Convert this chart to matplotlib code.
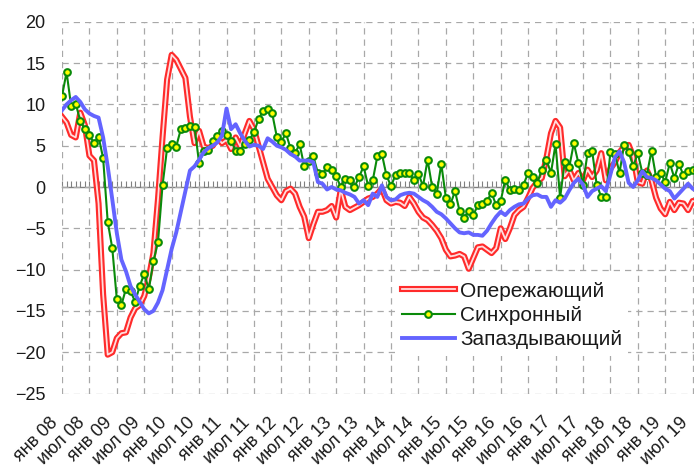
import numpy as np
import matplotlib
matplotlib.use("Agg")
import matplotlib.pyplot as plt
from matplotlib.transforms import ScaledTranslation

plt.rcParams['font.family'] = ['Liberation Sans', 'DejaVu Sans']

# ---- data (monthly, Jan 2008 .. Aug 2019) ----
leading = [
    8.5, 7.8, 6.3, 6.0, 9.0, 7.5, 3.8, 3.2, -2.0, -13.0,
    -20.3, -20.0, -18.3, -17.7, -17.6, -15.8, -14.7, -14.3, -13.2, -11.0,
    -8.0, -1.5, 6.0, 13.0, 16.0, 15.4, 14.3, 13.2, 8.5, 5.3,
    6.8, 4.9, 4.7, 5.0, 6.0, 5.3, 5.7, 4.6, 6.0, 4.9,
    6.5, 8.0, 7.0, 5.0, 3.0, 1.0, 0.0, -1.0, -1.6, -0.5,
    -0.2, -0.8, -2.4, -3.6, -6.2, -4.5, -3.0, -3.0, -2.8, -2.3,
    -3.7, -0.3, -2.4, -2.8, -2.5, -2.2, -1.8, -1.4, -1.2, -0.8,
    -0.2, -1.6, -2.0, -1.8, -1.9, -2.3, -1.2, -2.0, -3.0, -3.7,
    -4.0, -4.6, -5.3, -6.2, -7.6, -8.4, -8.3, -8.1, -8.4, -9.9,
    -8.6, -7.3, -7.2, -7.6, -8.0, -7.4, -5.0, -6.3, -5.0, -3.4,
    -2.8, -2.4, -1.3, -0.1, 0.6, 1.1, 3.5, 6.5, 8.0, 7.2,
    1.3, 2.1, 0.8, 1.7, 0.8, 2.1, 1.2, 2.0, 4.1, 0.8,
    2.2, 3.0, 4.2, 4.9, 5.1, 3.7, 0.6, 0.4, 2.0, 0.8,
    -1.3, -2.6, -3.3, -1.8, -2.8, -1.9, -2.0, -2.8, -1.7, -1.8,
]
coincident = [
    11.0, 13.9, 9.8, 10.1, 8.0, 7.0, 6.3, 5.3, 6.1, 3.5,
    -4.2, -7.4, -13.6, -14.3, -12.3, -12.6, -13.9, -12.0, -10.5, -12.4,
    -9.0, -6.7, 0.2, 4.7, 5.2, 4.9, 7.0, 7.1, 7.4, 7.3,
    2.9, 4.4, 4.5, 5.6, 6.2, 6.8, 6.3, 5.6, 4.4, 4.4,
    5.2, 5.7, 6.6, 8.2, 9.2, 9.5, 8.9, 6.1, 5.5, 6.5,
    4.7, 4.1, 5.2, 2.5, 3.1, 3.7, 1.7, 1.6, 2.4, 2.0,
    1.3, 0.0, 1.0, 0.8, 0.0, 1.2, 2.5, 0.1, 0.8, 3.7,
    4.0, 1.4, 0.1, 1.5, 1.7, 1.7, 1.7, 0.8, 1.6, 0.1,
    3.3, 0.0, -0.8, 2.8, -1.3, -2.1, -0.5, -2.9, -3.7, -2.9,
    -3.4, -2.2, -2.1, -1.7, -0.7, -2.2, -1.7, 0.9, -0.4, -0.3,
    -0.4, 0.3, 1.7, 1.2, 0.5, 2.1, 3.3, 1.7, 5.2, -1.3,
    3.0, 2.4, 5.3, 2.9, 0.3, 4.1, 4.4, 0.3, -1.2, -1.2,
    4.2, 4.0, 1.7, 5.1, 4.2, 2.5, 4.1, 1.7, 1.5, 4.4,
    1.2, 1.7, 0.6, 2.9, 1.1, 2.8, 1.4, 1.9, 2.1, 2.0,
]
lagging = [
    9.3, 10.0, 10.5, 10.9, 10.3, 9.4, 8.9, 8.6, 8.4, 6.0,
    2.5, -1.5, -5.6, -8.8, -10.2, -12.0, -13.0, -13.9, -14.8, -15.3,
    -15.0, -14.0, -12.5, -10.0, -7.5, -5.5, -3.0, -0.5, 2.0, 2.5,
    3.3, 4.2, 4.7, 5.0, 5.4, 6.2, 9.5, 7.0, 7.6, 6.5,
    5.6, 4.9, 5.1, 5.0, 4.6, 5.9, 5.5, 5.0, 4.8, 4.5,
    4.0, 3.7, 3.2, 3.2, 3.2, 3.0, 0.6, 0.4, -0.3, 0.0,
    -0.3, -0.4, -0.7, -0.9, -1.2, -2.0, -1.6, -2.2, -0.8, -1.2,
    0.2, -1.2, -1.6, -1.5, -1.0, -0.8, -0.7, -0.8, -1.2, -1.6,
    -1.9, -2.4, -3.0, -3.3, -3.8, -4.4, -5.0, -5.5, -5.6, -5.5,
    -5.8, -5.8, -5.9, -5.3, -4.4, -3.6, -3.0, -3.4, -2.8, -2.4,
    -2.1, -2.0, -1.4, -1.0, -0.9, -1.2, -1.2, -2.4, -1.6, -1.9,
    -1.4, -0.4, 0.5, 1.0, 0.3, -1.2, -0.5, -0.2, 0.1, -0.5,
    1.5, 3.6, 4.3, 3.0, 0.5, 0.0, 0.8, 1.9, 1.2, 1.1,
    0.8, 0.3, -0.2, -0.5, -1.4, -0.8, -0.2, 0.4, -0.2, -0.5,
]
tick_labels = [f"{m} {y:02d}" for y in range(8, 20) for m in ("янв", "июл")]
series_names = ["Опережающий", "Синхронный", "Запаздывающий"]

months = np.arange(len(leading))

W, H = 694, 469
fig = plt.figure(figsize=(W / 100, H / 100), dpi=100)
ax_left, ax_right = 62 / W, 1.0
ax_top, ax_bottom = 1 - 21.8 / H, 1 - 393.5 / H
ax = fig.add_axes([ax_left, ax_bottom, ax_right - ax_left, ax_top - ax_bottom])

ax.set_xlim(0, 138.3)
ax.set_ylim(-25, 20)
for s in ax.spines.values():
    s.set_visible(False)

ax.set_xticks(np.arange(0, 6 * len(tick_labels), 6))
ax.set_xticklabels(tick_labels, rotation=45, ha='right', va='center',
                   rotation_mode='anchor', fontsize=13, color='#1a1a1a')
ax.set_yticks(np.arange(-25, 21, 5))
ax.tick_params(axis='both', length=0)
ax.tick_params(axis='x', pad=19)
ax.tick_params(axis='y', pad=12, labelsize=13, labelcolor='#1a1a1a')
for lab in ax.get_xticklabels():
    lab.set_transform(lab.get_transform() + ScaledTranslation(-0.07, 0, fig.dpi_scale_trans))

ax.grid(True, ls=(0, (5, 4)), color='#a8a8a8', lw=0.9)
ax.set_axisbelow(True)

# zero axis with monthly ticks
sec = ax.secondary_xaxis(25 / 45)
sec.set_xticks(months[months <= 138])
sec.set_xticklabels([])
sec.tick_params(axis='x', which='both', direction='out', length=4, width=0.8,
                color='#808080', labeltop=False, labelbottom=False)
for s in sec.spines.values():
    s.set_color('#808080')
    s.set_linewidth(1.0)

r_outer, = ax.plot(months, leading, color='#ff2b2b', lw=4.4, solid_joinstyle='round', zorder=3)
r_inner, = ax.plot(months, leading, color='#ffdede', lw=1.3, solid_joinstyle='round', zorder=3.1)
g_line, = ax.plot(months, coincident, color='#0a8a0a', lw=1.5, marker='o', ms=4.8,
                  mfc='#ffff00', mec='#0a8a0a', mew=1.5, zorder=4)
b_line, = ax.plot(months, lagging, color='#6464ff', lw=2.8, solid_joinstyle='round', zorder=5)

leg = ax.legend([(r_outer, r_inner), g_line, b_line], series_names,
                loc='upper left', bbox_to_anchor=(0.5277, 0.318), borderaxespad=0,
                fontsize=15, handlelength=2.55, handletextpad=0.24, labelspacing=0.26,
                borderpad=0.3, frameon=True, fancybox=False, framealpha=1.0)
leg.get_frame().set_edgecolor('none')
leg.get_frame().set_facecolor('white')
leg.set_zorder(10)
for t in leg.get_texts():
    t.set_color('#1a1a1a')

fig.savefig('out.png', dpi=100)
